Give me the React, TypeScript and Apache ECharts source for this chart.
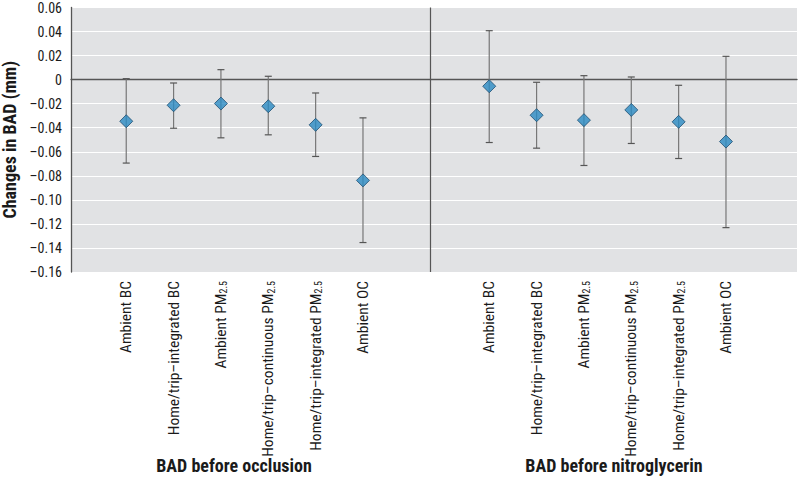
import React, { useEffect, useRef } from "react";
import * as echarts from "echarts";

// ---- data ----
const exposures = [
  "Ambient BC",
  "Home/trip–integrated BC",
  "Ambient PM2.5",
  "Home/trip–continuous PM2.5",
  "Home/trip–integrated PM2.5",
  "Ambient OC",
];
const groupTitles = ["BAD before occlusion", "BAD before nitroglycerin"];

const occlusionMean = [-0.0346, -0.0213, -0.0199, -0.0221, -0.0376, -0.0838];
const occlusionLow = [-0.0694, -0.0404, -0.0484, -0.0459, -0.0639, -0.1355];
const occlusionHigh = [0.0008, -0.0028, 0.0083, 0.0028, -0.0111, -0.0318];

const nitroMean = [-0.0055, -0.0296, -0.0337, -0.0252, -0.0351, -0.0515];
const nitroLow = [-0.0523, -0.057, -0.0714, -0.0531, -0.0656, -0.1231];
const nitroHigh = [0.0407, -0.0022, 0.0033, 0.0022, -0.0047, 0.0194];

const yMin = -0.16;
const yMax = 0.06;
const yInterval = 0.02;

// ---- layout (category slots) ----
const SLOTS = 46;
const GROUP_START = [3, 26];
const STEP = 3;

const FONT = '"Liberation Sans Narrow", "Arial Narrow", "Roboto Condensed", Roboto, sans-serif';

export default function App() {
  const ref = useRef<HTMLDivElement>(null);

  useEffect(() => {
    if (!ref.current) return;
    const chart = echarts.init(ref.current, undefined, { renderer: "svg" });

    const keys: string[] = [];
    for (let i = 0; i < SLOTS; i++) keys.push("gap" + i);
    const groupData = [
      { mean: occlusionMean, low: occlusionLow, high: occlusionHigh },
      { mean: nitroMean, low: nitroLow, high: nitroHigh },
    ];
    const points: any[] = [];
    const bars: any[] = [];
    groupData.forEach((g, gi) => {
      exposures.forEach((_, j) => {
        const key = gi + ":" + j;
        keys[GROUP_START[gi] + STEP * j] = key;
        points.push([key, g.mean[j]]);
        bars.push([key, g.low[j], g.high[j]]);
      });
    });

    const fmtY = (v: number) => {
      if (Math.abs(v) < 1e-9) return "0";
      return (v < 0 ? "–" : "") + Math.abs(v).toFixed(2);
    };

    const barColor = "#777777";

    chart.setOption({
      animation: false,
      grid: {
        left: 71,
        right: 3,
        top: 7.5,
        bottom: 206,
        show: true,
        backgroundColor: "#e1e2e4",
        borderWidth: 0,
        containLabel: false,
        outerBoundsMode: "none",
      },
      xAxis: {
        type: "category",
        data: keys,
        boundaryGap: true,
        axisLine: { show: true, lineStyle: { color: "#555555", width: 1.3 } },
        axisTick: { show: false },
        splitLine: { show: false },
        axisLabel: {
          interval: (_i: number, v: string) => v.indexOf(":") >= 0,
          rotate: 90,
          margin: 9,
          color: "#1a1a1a",
          fontFamily: FONT,
          fontSize: 15.5,
          formatter: (v: string) => {
            if (v.indexOf(":") < 0) return "";
            const j = Number(v.split(":")[1]);
            return exposures[j].replace("PM2.5", "PM{sub|2.5}");
          },
          rich: {
            sub: {
              fontFamily: FONT,
              fontSize: 10,
              color: "#1a1a1a",
              lineHeight: 4,
              verticalAlign: "bottom",
            },
          },
        },
      },
      yAxis: {
        type: "value",
        min: yMin,
        max: yMax,
        interval: yInterval,
        name: "Changes in BAD (mm)",
        nameLocation: "middle",
        nameGap: 48,
        nameTextStyle: {
          fontFamily: FONT,
          fontWeight: "bold",
          fontSize: 18,
          color: "#1a1a1a",
        },
        axisLine: { show: true, lineStyle: { color: "#555555", width: 1.3 } },
        axisTick: { show: false },
        splitLine: { show: true, lineStyle: { color: "#ffffff", width: 1.2 } },
        axisLabel: {
          margin: 9,
          padding: [3, 0, 0, 0],
          color: "#1a1a1a",
          fontFamily: FONT,
          fontSize: 14,
          formatter: fmtY,
        },
      },
      series: [
        {
          type: "custom",
          z: 2,
          data: bars,
          encode: { x: 0, y: [1, 2] },
          renderItem: (_params: any, api: any) => {
            const x = api.value(0);
            const lo = api.coord([x, api.value(1)]);
            const hi = api.coord([x, api.value(2)]);
            const cap = 3.5;
            const st = { stroke: barColor, lineWidth: 1.2, fill: null };
            return {
              type: "group",
              children: [
                { type: "line", shape: { x1: hi[0], y1: hi[1], x2: lo[0], y2: lo[1] }, style: st },
                { type: "line", shape: { x1: hi[0] - cap, y1: hi[1], x2: hi[0] + cap, y2: hi[1] }, style: { ...st, stroke: "#555555" } },
                { type: "line", shape: { x1: lo[0] - cap, y1: lo[1], x2: lo[0] + cap, y2: lo[1] }, style: { ...st, stroke: "#555555" } },
              ],
            };
          },
        },
        {
          type: "scatter",
          z: 3,
          data: points,
          symbol: "diamond",
          symbolSize: 13,
          itemStyle: { color: "#2b8bc3", borderColor: "#1f4f72", borderWidth: 1 },
          markLine: {
            silent: true,
            symbol: "none",
            label: { show: false },
            z: 1,
            lineStyle: { color: "#555555", width: 1.2, type: "solid" },
            data: [{ yAxis: 0 }],
          },
        },
      ],
      graphic: [
        {
          type: "line",
          shape: { x1: 430.5, y1: 7.5, x2: 430.5, y2: 272 },
          style: { stroke: "#555555", lineWidth: 1.2 },
          z: 10,
        },
        {
          type: "text",
          x: 234,
          y: 456,
          style: {
            text: groupTitles[0],
            font: 'bold 18px ' + FONT,
            fill: "#1a1a1a",
            textAlign: "center",
            textVerticalAlign: "top",
          },
        },
        {
          type: "text",
          x: 614,
          y: 456,
          style: {
            text: groupTitles[1],
            font: 'bold 18px ' + FONT,
            fill: "#1a1a1a",
            textAlign: "center",
            textVerticalAlign: "top",
          },
        },
      ],
    });

    return () => chart.dispose();
  }, []);

  return (
    <div
      ref={ref}
      style={{ position: "absolute", left: 0, top: 0, width: 800, height: 478, background: "#ffffff" }}
    />
  );
}
